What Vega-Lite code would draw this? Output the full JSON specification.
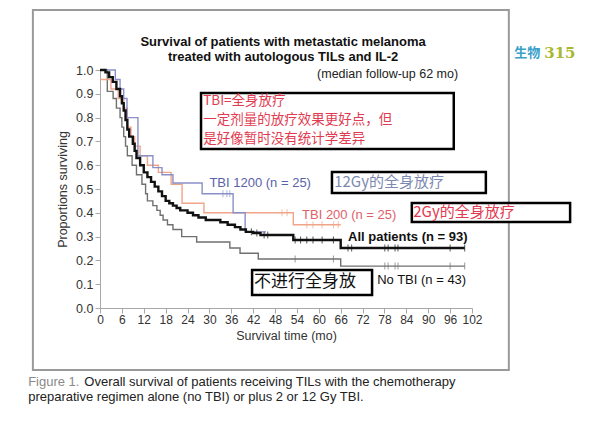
{
  "$schema": "https://vega.github.io/schema/vega-lite/v6.json",
  "width": 372,
  "height": 238,
  "autosize": "none",
  "padding": {"left": 100, "top": 70, "right": 120, "bottom": 118},
  "background": "white",
  "config": {
    "view": {"stroke": null},
    "font": "Liberation Sans",
    "axis": {"grid": false, "domainColor": "#a8a8a8", "tickColor": "#a8a8a8", "labelColor": "#333", "titleColor": "#333", "labelFont": "Liberation Sans", "titleFont": "Liberation Sans", "titleFontWeight": "normal", "labelFontSize": 12.5, "titleFontSize": 12.5, "tickSize": 5, "labelOverlap": false, "labelFlush": false}
  },
  "datasets": {
    "curves": [
      {"group": "All", "t": 0, "s": 1.0}, {"group": "All", "t": 1.5, "s": 0.99}, {"group": "All", "t": 2.5, "s": 0.97}, {"group": "All", "t": 3.5, "s": 0.95}, {"group": "All", "t": 4.5, "s": 0.92}, {"group": "All", "t": 5.5, "s": 0.89}, {"group": "All", "t": 6, "s": 0.86}, {"group": "All", "t": 6.5, "s": 0.83}, {"group": "All", "t": 7, "s": 0.79}, {"group": "All", "t": 7.5, "s": 0.75}, {"group": "All", "t": 8, "s": 0.72}, {"group": "All", "t": 9, "s": 0.69}, {"group": "All", "t": 9.5, "s": 0.66}, {"group": "All", "t": 10, "s": 0.63}, {"group": "All", "t": 11, "s": 0.6}, {"group": "All", "t": 12, "s": 0.57}, {"group": "All", "t": 13, "s": 0.55}, {"group": "All", "t": 14, "s": 0.53}, {"group": "All", "t": 15, "s": 0.51}, {"group": "All", "t": 16, "s": 0.49}, {"group": "All", "t": 17, "s": 0.47}, {"group": "All", "t": 18, "s": 0.45}, {"group": "All", "t": 19, "s": 0.44}, {"group": "All", "t": 20, "s": 0.43}, {"group": "All", "t": 21, "s": 0.42}, {"group": "All", "t": 22, "s": 0.41}, {"group": "All", "t": 24, "s": 0.4}, {"group": "All", "t": 25.5, "s": 0.39}, {"group": "All", "t": 27, "s": 0.38}, {"group": "All", "t": 29, "s": 0.37}, {"group": "All", "t": 33, "s": 0.36}, {"group": "All", "t": 35, "s": 0.35}, {"group": "All", "t": 37, "s": 0.34}, {"group": "All", "t": 38.5, "s": 0.33}, {"group": "All", "t": 40, "s": 0.32}, {"group": "All", "t": 42, "s": 0.315}, {"group": "All", "t": 44, "s": 0.307}, {"group": "All", "t": 53, "s": 0.286}, {"group": "All", "t": 66, "s": 0.252}, {"group": "All", "t": 100, "s": 0.252},
      {"group": "TBI1200", "t": 0, "s": 1.0}, {"group": "TBI1200", "t": 4.2, "s": 0.96}, {"group": "TBI1200", "t": 5.5, "s": 0.92}, {"group": "TBI1200", "t": 6.5, "s": 0.88}, {"group": "TBI1200", "t": 7.4, "s": 0.8}, {"group": "TBI1200", "t": 10.4, "s": 0.64}, {"group": "TBI1200", "t": 14.5, "s": 0.59}, {"group": "TBI1200", "t": 17, "s": 0.56}, {"group": "TBI1200", "t": 20, "s": 0.525}, {"group": "TBI1200", "t": 28, "s": 0.48}, {"group": "TBI1200", "t": 36.5, "s": 0.4}, {"group": "TBI1200", "t": 39.8, "s": 0.32}, {"group": "TBI1200", "t": 45.5, "s": 0.32},
      {"group": "TBI200", "t": 0, "s": 0.96}, {"group": "TBI200", "t": 3, "s": 0.92}, {"group": "TBI200", "t": 5, "s": 0.88}, {"group": "TBI200", "t": 6.5, "s": 0.84}, {"group": "TBI200", "t": 7.5, "s": 0.76}, {"group": "TBI200", "t": 8.5, "s": 0.72}, {"group": "TBI200", "t": 9.5, "s": 0.68}, {"group": "TBI200", "t": 11, "s": 0.64}, {"group": "TBI200", "t": 13, "s": 0.6}, {"group": "TBI200", "t": 16, "s": 0.57}, {"group": "TBI200", "t": 19.5, "s": 0.52}, {"group": "TBI200", "t": 22.5, "s": 0.44}, {"group": "TBI200", "t": 28.5, "s": 0.4}, {"group": "TBI200", "t": 53, "s": 0.35}, {"group": "TBI200", "t": 66, "s": 0.35},
      {"group": "NoTBI", "t": 0, "s": 1.0}, {"group": "NoTBI", "t": 2, "s": 0.91}, {"group": "NoTBI", "t": 3.6, "s": 0.88}, {"group": "NoTBI", "t": 4.5, "s": 0.84}, {"group": "NoTBI", "t": 5.5, "s": 0.8}, {"group": "NoTBI", "t": 6, "s": 0.76}, {"group": "NoTBI", "t": 6.5, "s": 0.72}, {"group": "NoTBI", "t": 7, "s": 0.68}, {"group": "NoTBI", "t": 7.5, "s": 0.64}, {"group": "NoTBI", "t": 8.8, "s": 0.6}, {"group": "NoTBI", "t": 10, "s": 0.56}, {"group": "NoTBI", "t": 11.5, "s": 0.52}, {"group": "NoTBI", "t": 12.5, "s": 0.48}, {"group": "NoTBI", "t": 13, "s": 0.45}, {"group": "NoTBI", "t": 14.5, "s": 0.43}, {"group": "NoTBI", "t": 15.6, "s": 0.41}, {"group": "NoTBI", "t": 16.5, "s": 0.39}, {"group": "NoTBI", "t": 17.3, "s": 0.37}, {"group": "NoTBI", "t": 18.5, "s": 0.35}, {"group": "NoTBI", "t": 20, "s": 0.33}, {"group": "NoTBI", "t": 22.4, "s": 0.3}, {"group": "NoTBI", "t": 26.5, "s": 0.277}, {"group": "NoTBI", "t": 35.6, "s": 0.252}, {"group": "NoTBI", "t": 38.4, "s": 0.23}, {"group": "NoTBI", "t": 43.4, "s": 0.206}, {"group": "NoTBI", "t": 66, "s": 0.176}, {"group": "NoTBI", "t": 100, "s": 0.176}
    ],
    "censor": [
      {"group": "All", "t": 41.5, "s": 0.32}, {"group": "All", "t": 43, "s": 0.315}, {"group": "All", "t": 45, "s": 0.307}, {"group": "All", "t": 46, "s": 0.307},
      {"group": "All", "t": 53.5, "s": 0.286}, {"group": "All", "t": 55, "s": 0.286}, {"group": "All", "t": 56.7, "s": 0.286}, {"group": "All", "t": 58.4, "s": 0.286}, {"group": "All", "t": 60.9, "s": 0.286}, {"group": "All", "t": 64, "s": 0.286},
      {"group": "All", "t": 68, "s": 0.252}, {"group": "All", "t": 69, "s": 0.252}, {"group": "All", "t": 78.1, "s": 0.252}, {"group": "All", "t": 79, "s": 0.252}, {"group": "All", "t": 80.9, "s": 0.252}, {"group": "All", "t": 81.7, "s": 0.252}, {"group": "All", "t": 96, "s": 0.252}, {"group": "All", "t": 100, "s": 0.252},
      {"group": "NoTBI", "t": 53.5, "s": 0.206}, {"group": "NoTBI", "t": 64, "s": 0.206}, {"group": "NoTBI", "t": 78.1, "s": 0.176}, {"group": "NoTBI", "t": 79, "s": 0.176}, {"group": "NoTBI", "t": 80.9, "s": 0.176}, {"group": "NoTBI", "t": 81.7, "s": 0.176}, {"group": "NoTBI", "t": 96, "s": 0.176}, {"group": "NoTBI", "t": 100, "s": 0.176},
      {"group": "TBI200", "t": 49.9, "s": 0.4}, {"group": "TBI200", "t": 51.3, "s": 0.4}, {"group": "TBI200", "t": 56.7, "s": 0.35}, {"group": "TBI200", "t": 58.4, "s": 0.35}, {"group": "TBI200", "t": 60.9, "s": 0.35}, {"group": "TBI200", "t": 64, "s": 0.35}, {"group": "TBI200", "t": 65.3, "s": 0.35},
      {"group": "TBI1200", "t": 33.7, "s": 0.48}, {"group": "TBI1200", "t": 34.8, "s": 0.48}, {"group": "TBI1200", "t": 35.6, "s": 0.48}
    ],
    "one": [{}]
  },
  "layer": [
    {
      "data": {"name": "curves"},
      "transform": [{"filter": "datum.group === 'NoTBI'"}],
      "mark": {"type": "line", "interpolate": "step-after", "color": "#707070", "strokeWidth": 1.4},
      "encoding": {
        "x": {"field": "t", "type": "quantitative", "scale": {"domain": [0, 102], "nice": false}, "axis": {"values": [0, 6, 12, 18, 24, 30, 36, 42, 48, 54, 60, 66, 72, 78, 84, 90, 96, 102], "tickCount": 30, "labelOverlap": false, "labelFlush": false, "labelFontSize": 12, "title": "Survival time (mo)", "labelPadding": 1, "titlePadding": 4}},
        "y": {"field": "s", "type": "quantitative", "scale": {"domain": [0, 1], "nice": false}, "axis": {"values": [0, 0.1, 0.2, 0.3, 0.4, 0.5, 0.6, 0.7, 0.8, 0.9, 1.0], "tickCount": 20, "labelOverlap": false, "labelFlush": false, "format": ".1f", "title": "Proportions surviving", "labelPadding": 2, "titlePadding": 6}}
      }
    },
    {
      "data": {"name": "curves"},
      "transform": [{"filter": "datum.group === 'TBI200'"}],
      "mark": {"type": "line", "interpolate": "step-after", "color": "#f0a488", "strokeWidth": 1.4},
      "encoding": {"x": {"field": "t", "type": "quantitative"}, "y": {"field": "s", "type": "quantitative"}}
    },
    {
      "data": {"name": "curves"},
      "transform": [{"filter": "datum.group === 'TBI1200'"}],
      "mark": {"type": "line", "interpolate": "step-after", "color": "#8a90c8", "strokeWidth": 1.4},
      "encoding": {"x": {"field": "t", "type": "quantitative"}, "y": {"field": "s", "type": "quantitative"}}
    },
    {
      "data": {"name": "curves"},
      "transform": [{"filter": "datum.group === 'All'"}],
      "mark": {"type": "line", "interpolate": "step-after", "color": "#111111", "strokeWidth": 2.4},
      "encoding": {"x": {"field": "t", "type": "quantitative"}, "y": {"field": "s", "type": "quantitative"}}
    },
    {
      "data": {"name": "censor"},
      "mark": {"type": "tick", "orient": "vertical", "size": 7, "thickness": 1},
      "encoding": {
        "x": {"field": "t", "type": "quantitative"},
        "y": {"field": "s", "type": "quantitative"},
        "color": {"field": "group", "type": "nominal", "scale": {"domain": ["All", "NoTBI", "TBI200", "TBI1200"], "range": ["#111111", "#707070", "#f0a488", "#8a90c8"]}, "legend": null}
      }
    },
    {
      "data": {"name": "one"},
      "mark": {"type": "rect", "fill": null, "stroke": "#9a9a9a", "strokeWidth": 2},
      "encoding": {"x": {"datum": -18.4, "type": "quantitative"}, "x2": {"datum": 112.1}, "y": {"datum": 1.252, "type": "quantitative"}, "y2": {"datum": -0.26}}
    },
    {
      "data": {"name": "one"},
      "mark": {"type": "rect", "fill": "white", "stroke": "black", "strokeWidth": 2.5},
      "encoding": {"x": {"datum": 27.7, "type": "quantitative"}, "x2": {"datum": 97.0}, "y": {"datum": 0.903, "type": "quantitative"}, "y2": {"datum": 0.668}}
    },
    {
      "data": {"name": "one"},
      "mark": {"type": "rect", "fill": "white", "stroke": "black", "strokeWidth": 2.5},
      "encoding": {"x": {"datum": 63.6, "type": "quantitative"}, "x2": {"datum": 105.8}, "y": {"datum": 0.571, "type": "quantitative"}, "y2": {"datum": 0.483}}
    },
    {
      "data": {"name": "one"},
      "mark": {"type": "rect", "fill": "white", "stroke": "black", "strokeWidth": 2.5},
      "encoding": {"x": {"datum": 85.5, "type": "quantitative"}, "x2": {"datum": 128.9}, "y": {"datum": 0.441, "type": "quantitative"}, "y2": {"datum": 0.361}}
    },
    {
      "data": {"name": "one"},
      "mark": {"type": "rect", "fill": "white", "stroke": "black", "strokeWidth": 2.5},
      "encoding": {"x": {"datum": 41.7, "type": "quantitative"}, "x2": {"datum": 74.6}, "y": {"datum": 0.16, "type": "quantitative"}, "y2": {"datum": 0.055}}
    },
    {
      "data": {"name": "one"},
      "mark": {"type": "text", "text": "TBI=全身放疗", "align": "left", "baseline": "middle", "font": "Noto Sans CJK SC", "fontSize": 13.5, "color": "#e23a50"},
      "encoding": {"x": {"datum": 28.3, "type": "quantitative"}, "y": {"datum": 0.868, "type": "quantitative"}}
    },
    {
      "data": {"name": "one"},
      "mark": {"type": "text", "text": "一定剂量的放疗效果更好点，但", "align": "left", "baseline": "middle", "font": "Noto Sans CJK SC", "fontSize": 13.5, "color": "#e23a50"},
      "encoding": {"x": {"datum": 28.3, "type": "quantitative"}, "y": {"datum": 0.788, "type": "quantitative"}}
    },
    {
      "data": {"name": "one"},
      "mark": {"type": "text", "text": "是好像暂时没有统计学差异", "align": "left", "baseline": "middle", "font": "Noto Sans CJK SC", "fontSize": 13.5, "color": "#e23a50"},
      "encoding": {"x": {"datum": 28.3, "type": "quantitative"}, "y": {"datum": 0.708, "type": "quantitative"}}
    },
    {
      "data": {"name": "one"},
      "mark": {"type": "text", "text": "12Gy的全身放疗", "align": "left", "baseline": "middle", "font": "Noto Sans CJK SC", "fontSize": 15, "color": "#7d8ab0"},
      "encoding": {"x": {"datum": 64.2, "type": "quantitative"}, "y": {"datum": 0.529, "type": "quantitative"}}
    },
    {
      "data": {"name": "one"},
      "mark": {"type": "text", "text": "2Gy的全身放疗", "align": "left", "baseline": "middle", "font": "Noto Sans CJK SC", "fontSize": 15, "color": "#e23a50"},
      "encoding": {"x": {"datum": 85.9, "type": "quantitative"}, "y": {"datum": 0.403, "type": "quantitative"}}
    },
    {
      "data": {"name": "one"},
      "mark": {"type": "text", "text": "不进行全身放", "align": "left", "baseline": "middle", "font": "Noto Sans CJK SC", "fontSize": 17, "color": "#111111"},
      "encoding": {"x": {"datum": 42.2, "type": "quantitative"}, "y": {"datum": 0.109, "type": "quantitative"}}
    },
    {
      "data": {"name": "one"},
      "mark": {"type": "text", "text": "TBI 1200 (n = 25)", "align": "left", "baseline": "middle", "fontSize": 13, "color": "#5a62a8"},
      "encoding": {"x": {"datum": 30.0, "type": "quantitative"}, "y": {"datum": 0.525, "type": "quantitative"}}
    },
    {
      "data": {"name": "one"},
      "mark": {"type": "text", "text": "TBI 200 (n = 25)", "align": "left", "baseline": "middle", "fontSize": 13, "color": "#e0606a"},
      "encoding": {"x": {"datum": 55.4, "type": "quantitative"}, "y": {"datum": 0.39, "type": "quantitative"}}
    },
    {
      "data": {"name": "one"},
      "mark": {"type": "text", "text": "All patients (n  = 93)", "align": "left", "baseline": "middle", "fontSize": 13, "fontWeight": "bold", "color": "#111111"},
      "encoding": {"x": {"datum": 68, "type": "quantitative"}, "y": {"datum": 0.3, "type": "quantitative"}}
    },
    {
      "data": {"name": "one"},
      "mark": {"type": "text", "text": "No TBI (n = 43)", "align": "left", "baseline": "middle", "fontSize": 13, "color": "#111111"},
      "encoding": {"x": {"datum": 76, "type": "quantitative"}, "y": {"datum": 0.118, "type": "quantitative"}}
    },
    {
      "data": {"name": "one"},
      "mark": {"type": "text", "text": "Survival of patients with metastatic melanoma", "align": "center", "baseline": "middle", "fontSize": 13, "fontWeight": "bold", "color": "#111111"},
      "encoding": {"x": {"datum": 50.2, "type": "quantitative"}, "y": {"datum": 1.118, "type": "quantitative"}}
    },
    {
      "data": {"name": "one"},
      "mark": {"type": "text", "text": "treated with autologous TILs and IL-2", "align": "center", "baseline": "middle", "fontSize": 13, "fontWeight": "bold", "color": "#111111"},
      "encoding": {"x": {"datum": 50.2, "type": "quantitative"}, "y": {"datum": 1.055, "type": "quantitative"}}
    },
    {
      "data": {"name": "one"},
      "mark": {"type": "text", "text": "(median follow-up 62 mo)", "align": "right", "baseline": "middle", "fontSize": 12.5, "color": "#222222"},
      "encoding": {"x": {"datum": 98.2, "type": "quantitative"}, "y": {"datum": 0.983, "type": "quantitative"}}
    },
    {
      "data": {"name": "one"},
      "mark": {"type": "text", "text": "生物", "align": "left", "baseline": "middle", "font": "Noto Sans CJK SC", "fontSize": 13, "fontWeight": "bold", "color": "#3aa0c8"},
      "encoding": {"x": {"datum": 113.6, "type": "quantitative"}, "y": {"datum": 1.071, "type": "quantitative"}}
    },
    {
      "data": {"name": "one"},
      "mark": {"type": "text", "text": "315", "align": "left", "baseline": "middle", "font": "DejaVu Serif", "fontSize": 15, "fontWeight": "bold", "color": "#a8b830"},
      "encoding": {"x": {"datum": 121.8, "type": "quantitative"}, "y": {"datum": 1.071, "type": "quantitative"}}
    },
    {
      "data": {"name": "one"},
      "mark": {"type": "text", "text": "Figure 1.", "align": "left", "baseline": "middle", "fontSize": 13, "color": "#8a8a8a"},
      "encoding": {"x": {"datum": -19.7, "type": "quantitative"}, "y": {"datum": -0.311, "type": "quantitative"}}
    },
    {
      "data": {"name": "one"},
      "mark": {"type": "text", "text": "Overall survival of patients receiving TILs with the chemotherapy", "align": "left", "baseline": "middle", "fontSize": 13, "color": "#222222"},
      "encoding": {"x": {"datum": -4.3, "type": "quantitative"}, "y": {"datum": -0.311, "type": "quantitative"}}
    },
    {
      "data": {"name": "one"},
      "mark": {"type": "text", "text": "preparative regimen alone (no TBI) or plus 2 or 12 Gy TBI.", "align": "left", "baseline": "middle", "fontSize": 13, "color": "#222222"},
      "encoding": {"x": {"datum": -19.7, "type": "quantitative"}, "y": {"datum": -0.374, "type": "quantitative"}}
    }
  ]
}
